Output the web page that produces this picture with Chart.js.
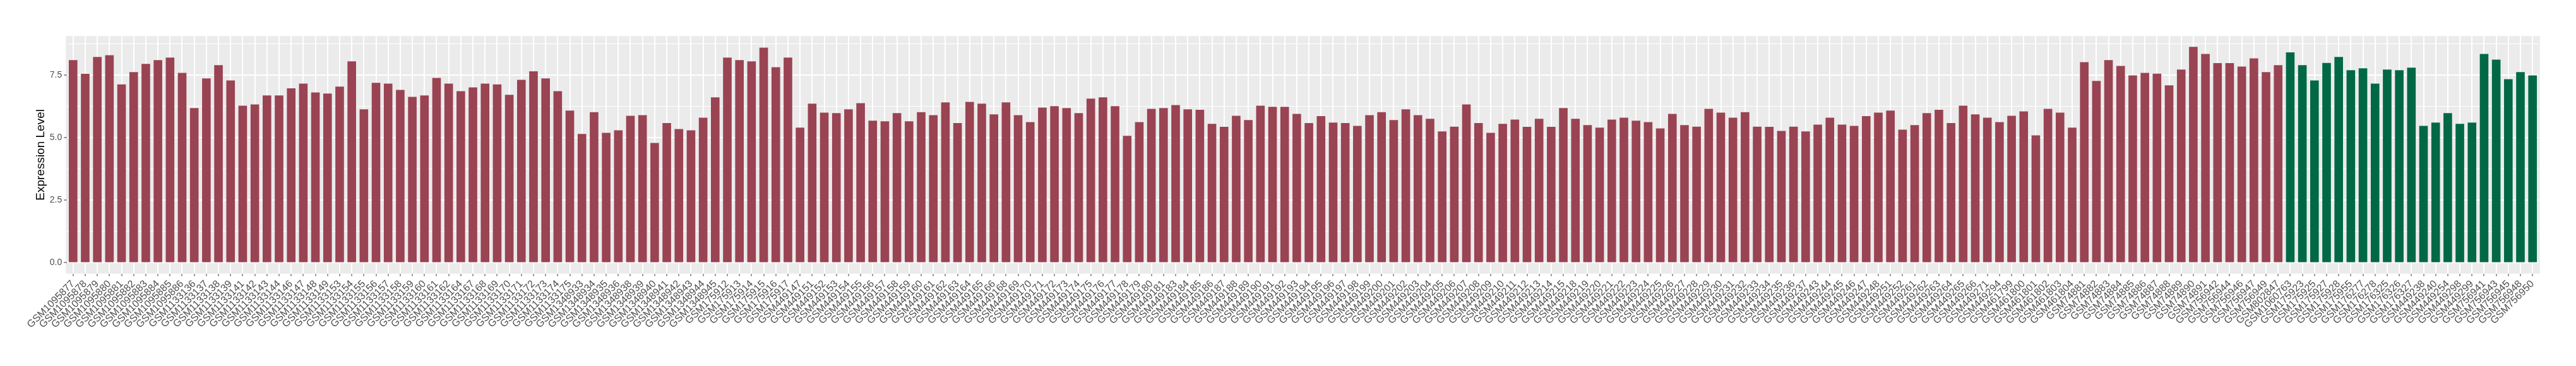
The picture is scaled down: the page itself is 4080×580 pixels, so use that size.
<!DOCTYPE html>
<html>
<head>
<meta charset="utf-8">
<title>Expression Level</title>
<script src="https://cdn.jsdelivr.net/npm/chart.js@4"></script>
<style>
  html, body { margin: 0; padding: 0; background: #fff; }
  #wrap { width: 4080px; height: 580px; }
</style>
</head>
<body>
<div id="wrap"><canvas id="chart" width="4080" height="580"></canvas></div>
<script>
// samples drawn in red
const redSamples = [
	'GSM1095877', 'GSM1095878', 'GSM1095879', 'GSM1095880', 'GSM1095881', 'GSM1095882', 'GSM1095883', 'GSM1095884', 'GSM1095885', 'GSM1095886',
	'GSM1133136', 'GSM1133137', 'GSM1133138', 'GSM1133139', 'GSM1133141', 'GSM1133142', 'GSM1133143', 'GSM1133144', 'GSM1133146', 'GSM1133147',
	'GSM1133148', 'GSM1133149', 'GSM1133153', 'GSM1133154', 'GSM1133155', 'GSM1133156', 'GSM1133157', 'GSM1133158', 'GSM1133159', 'GSM1133160',
	'GSM1133161', 'GSM1133162', 'GSM1133164', 'GSM1133167', 'GSM1133168', 'GSM1133169', 'GSM1133170', 'GSM1133171', 'GSM1133172', 'GSM1133173',
	'GSM1133174', 'GSM1133175', 'GSM1348933', 'GSM1348934', 'GSM1348935', 'GSM1348936', 'GSM1348938', 'GSM1348939', 'GSM1348940', 'GSM1348941',
	'GSM1348942', 'GSM1348943', 'GSM1348944', 'GSM1348945', 'GSM175912', 'GSM175913', 'GSM175914', 'GSM175915', 'GSM175916', 'GSM175917',
	'GSM449147', 'GSM449151', 'GSM449152', 'GSM449153', 'GSM449154', 'GSM449155', 'GSM449156', 'GSM449157', 'GSM449158', 'GSM449159',
	'GSM449160', 'GSM449161', 'GSM449162', 'GSM449163', 'GSM449164', 'GSM449165', 'GSM449166', 'GSM449168', 'GSM449169', 'GSM449170',
	'GSM449171', 'GSM449172', 'GSM449173', 'GSM449174', 'GSM449175', 'GSM449176', 'GSM449177', 'GSM449178', 'GSM449179', 'GSM449180',
	'GSM449181', 'GSM449183', 'GSM449184', 'GSM449185', 'GSM449186', 'GSM449187', 'GSM449188', 'GSM449189', 'GSM449190', 'GSM449191',
	'GSM449192', 'GSM449193', 'GSM449194', 'GSM449195', 'GSM449196', 'GSM449197', 'GSM449198', 'GSM449199', 'GSM449200', 'GSM449201',
	'GSM449202', 'GSM449203', 'GSM449204', 'GSM449205', 'GSM449206', 'GSM449207', 'GSM449208', 'GSM449209', 'GSM449210', 'GSM449211',
	'GSM449212', 'GSM449213', 'GSM449214', 'GSM449215', 'GSM449218', 'GSM449219', 'GSM449220', 'GSM449221', 'GSM449222', 'GSM449223',
	'GSM449224', 'GSM449225', 'GSM449226', 'GSM449227', 'GSM449228', 'GSM449229', 'GSM449230', 'GSM449231', 'GSM449232', 'GSM449233',
	'GSM449234', 'GSM449235', 'GSM449236', 'GSM449237', 'GSM449243', 'GSM449244', 'GSM449245', 'GSM449246', 'GSM449247', 'GSM449248',
	'GSM449251', 'GSM449252', 'GSM449261', 'GSM449262', 'GSM449263', 'GSM449264', 'GSM449265', 'GSM449266', 'GSM449271', 'GSM449294',
	'GSM461799', 'GSM461800', 'GSM461801', 'GSM461802', 'GSM461803', 'GSM461804', 'GSM74881', 'GSM74882', 'GSM74883', 'GSM74884',
	'GSM74885', 'GSM74886', 'GSM74887', 'GSM74888', 'GSM74889', 'GSM74890', 'GSM74891', 'GSM756942', 'GSM756944', 'GSM756946',
	'GSM756947', 'GSM756949', 'GSM802847'
];
const redLevels = [
	8.11, 7.56, 8.24, 8.31, 7.14, 7.63, 7.96, 8.11, 8.21, 7.60,
	6.19, 7.38, 7.91, 7.30, 6.29, 6.34, 6.70, 6.70, 6.98, 7.17,
	6.82, 6.77, 7.05, 8.06, 6.14, 7.20, 7.17, 6.92, 6.64, 6.70,
	7.40, 7.17, 6.87, 7.02, 7.17, 7.14, 6.72, 7.32, 7.66, 7.38,
	6.87, 6.09, 5.16, 6.03, 5.20, 5.30, 5.88, 5.91, 4.80, 5.59,
	5.35, 5.30, 5.81, 6.62, 8.21, 8.11, 8.06, 8.61, 7.83, 8.21,
	5.41, 6.37, 6.01, 5.99, 6.14, 6.39, 5.69, 5.66, 5.99, 5.66,
	6.03, 5.91, 6.42, 5.59, 6.44, 6.37, 5.94, 6.42, 5.91, 5.63,
	6.21, 6.27, 6.19, 5.99, 6.57, 6.62, 6.27, 5.08, 5.63, 6.16,
	6.19, 6.31, 6.14, 6.12, 5.56, 5.44, 5.88, 5.71, 6.29, 6.24,
	6.24, 5.96, 5.59, 5.87, 5.61, 5.59, 5.48, 5.91, 6.03, 5.71,
	6.14, 5.91, 5.76, 5.26, 5.45, 6.34, 5.59, 5.20, 5.56, 5.73,
	5.44, 5.76, 5.44, 6.19, 5.76, 5.51, 5.41, 5.73, 5.81, 5.69,
	5.63, 5.38, 5.96, 5.51, 5.45, 6.16, 6.01, 5.81, 6.03, 5.45,
	5.44, 5.28, 5.45, 5.26, 5.53, 5.81, 5.53, 5.48, 5.87, 6.01,
	6.09, 5.33, 5.51, 5.99, 6.12, 5.59, 6.29, 5.94, 5.81, 5.63,
	5.88, 6.06, 5.10, 6.16, 6.01, 5.41, 8.03, 7.28, 8.11, 7.88,
	7.50, 7.60, 7.57, 7.10, 7.73, 8.64, 8.36, 7.99, 7.99, 7.85,
	8.18, 7.63, 7.91
];

// samples drawn in green
const greenSamples = [
	'GSM1060763', 'GSM175923', 'GSM175925', 'GSM175927', 'GSM175928', 'GSM175955', 'GSM176277', 'GSM176278', 'GSM176325', 'GSM176326',
	'GSM176327', 'GSM449238', 'GSM449240', 'GSM449254', 'GSM449298', 'GSM449299', 'GSM756941', 'GSM756943', 'GSM756945', 'GSM756948',
	'GSM756950'
];
const greenLevels = [
	8.42, 7.91, 7.30, 8.00, 8.24, 7.71, 7.78, 7.17, 7.73, 7.71,
	7.81, 5.48, 5.61, 5.99, 5.56, 5.61, 8.36, 8.13, 7.35, 7.63,
	7.50
];

const yTicks = [0, 2.5, 5, 7.5];
const yMinorTicks = [1.25, 3.75, 6.25, 8.75];
const yMin = -0.432;
const yMax = 9.072;

const redColor = '#9A4352';
const greenColor = '#016846';

const labels = redSamples.concat(greenSamples);
const levels = redLevels.concat(greenLevels);
const colors = redSamples.map(() => redColor).concat(greenSamples.map(() => greenColor));

// grey ggplot panel, reaching a little past the outer bar slots
const panelBg = {
	id: 'panelBg',
	beforeDraw(chart) {
		const { ctx, chartArea: a, scales: { x } } = chart;
		const step = x.getPixelForValue(1) - x.getPixelForValue(0);
		const ext = step * 0.1;
		ctx.save();
		ctx.fillStyle = '#EBEBEB';
		ctx.fillRect(a.left - ext, a.top, a.right - a.left + 2 * ext, a.bottom - a.top);
		ctx.restore();
	}
};

const isMajor = (v) => yTicks.includes(v);

new Chart(document.getElementById('chart').getContext('2d'), {
	type: 'bar',
	data: {
		labels: labels,
		datasets: [{
			data: levels,
			backgroundColor: colors,
			borderWidth: 0,
			categoryPercentage: 1,
			barPercentage: 0.71
		}]
	},
	options: {
		responsive: false,
		devicePixelRatio: 1,
		animation: false,
		layout: { padding: { left: 0, right: 59.2, top: 57.2, bottom: 0 } },
		plugins: {
			legend: { display: false },
			tooltip: { enabled: false }
		},
		scales: {
			x: {
				offset: true,
				border: { display: false },
				grid: {
					offset: false,
					color: '#FFFFFF',
					lineWidth: 2,
					tickColor: '#333333',
					tickLength: 4,
					tickWidth: 1
				},
				ticks: {
					autoSkip: false,
					minRotation: 45,
					maxRotation: 45,
					padding: 3,
					color: '#4D4D4D',
					font: { family: '"Liberation Sans", Arial, sans-serif', size: 16 }
				},
				afterFit(scale) { scale.height = 146.4; }
			},
			y: {
				min: yMin,
				max: yMax,
				border: { display: false },
				afterBuildTicks(scale) {
					scale.ticks = yTicks.concat(yMinorTicks).sort((a, b) => a - b).map(v => ({ value: v }));
				},
				grid: {
					color: '#FFFFFF',
					lineWidth: (c) => isMajor(c.tick.value) ? 2 : 1,
					tickColor: (c) => isMajor(c.tick.value) ? '#333333' : 'rgba(0,0,0,0)',
					tickLength: 5,
					tickWidth: 1
				},
				ticks: {
					padding: 3,
					color: '#4D4D4D',
					font: { family: '"Liberation Sans", Arial, sans-serif', size: 14 },
					callback: (v) => isMajor(v) ? v.toFixed(1) : ''
				},
				title: {
					display: true,
					text: 'Expression Level',
					color: '#000000',
					font: { family: '"Liberation Sans", Arial, sans-serif', size: 19 },
					padding: { top: 53.6, bottom: 0 }
				},
				afterFit(scale) { scale.width = 106.2; }
			}
		}
	},
	plugins: [panelBg]
});
</script>
</body>
</html>
